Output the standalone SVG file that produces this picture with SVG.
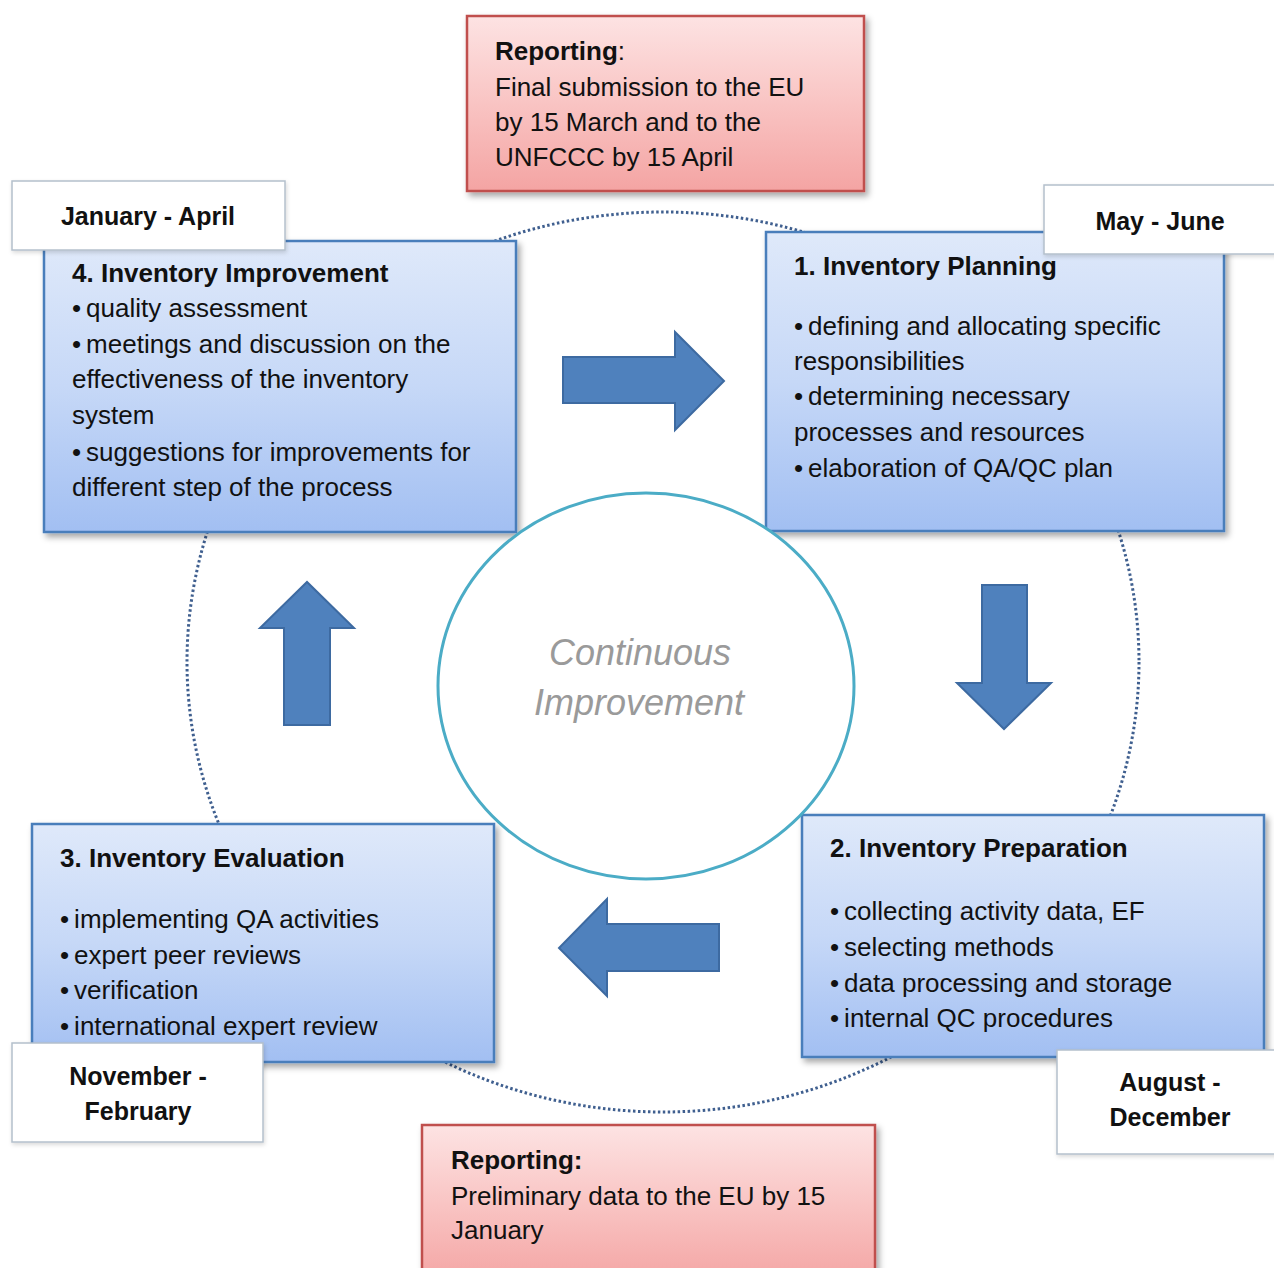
<svg xmlns="http://www.w3.org/2000/svg" width="1274" height="1268" viewBox="0 0 1274 1268">
<defs>
<linearGradient id="gBlue" x1="0" y1="0" x2="0" y2="1">
<stop offset="0" stop-color="#dfe9fa"/>
<stop offset="0.5" stop-color="#c6d8f7"/>
<stop offset="1" stop-color="#a2bff2"/>
</linearGradient>
<linearGradient id="gRed" x1="0" y1="0" x2="0" y2="1">
<stop offset="0" stop-color="#fde3e3"/>
<stop offset="0.5" stop-color="#f9c4c3"/>
<stop offset="1" stop-color="#f4a4a3"/>
</linearGradient>
<filter id="sh" x="-10%" y="-10%" width="125%" height="125%">
<feDropShadow dx="3" dy="4" stdDeviation="3" flood-color="#000" flood-opacity="0.35"/>
</filter>
<filter id="sh2" x="-10%" y="-10%" width="125%" height="125%">
<feDropShadow dx="1" dy="2" stdDeviation="2" flood-color="#000" flood-opacity="0.15"/>
</filter>
</defs>
<style>
text{font-family:"Liberation Sans",Arial,sans-serif;fill:#111;}
.t{font-size:26px;}
.b{font-size:26px;font-weight:bold;}
.m{font-size:25px;font-weight:bold;text-anchor:middle;}
.box{fill:url(#gBlue);stroke:#4a7ebb;stroke-width:2.5;filter:url(#sh);}
.red{fill:url(#gRed);stroke:#c0504d;stroke-width:2.5;filter:url(#sh);}
.lab{fill:#fff;stroke:#b4c0cc;stroke-width:1.5;filter:url(#sh2);}
.arr{fill:#4f81bd;stroke:#3d6aa1;stroke-width:2;}
.ci{font-size:36px;font-style:italic;fill:#9a9a9a;text-anchor:middle;}
</style>
<rect width="1274" height="1268" fill="#fff"/>

<g id="cycle">
<ellipse cx="663" cy="662" rx="476" ry="450" fill="none" stroke="#3f5f8f" stroke-width="3" stroke-dasharray="2.5 2.5"/>
</g>

<g id="report-top">
<rect class="red" x="467" y="16" width="397" height="175"/>
<text class="t" x="495" y="60"><tspan font-weight="bold">Reporting</tspan>:</text>
<text class="t" x="495" y="96">Final submission to the EU</text>
<text class="t" x="495" y="131">by 15 March and to the</text>
<text class="t" x="495" y="166">UNFCCC by 15 April</text>
</g>

<g id="step4">
<rect class="box" x="44" y="241" width="472" height="291"/>
<text class="b" x="72" y="282">4. Inventory Improvement</text>
<text class="t" x="72" y="317">•<tspan dx="5">quality assessment</tspan></text>
<text class="t" x="72" y="353">•<tspan dx="5">meetings and discussion on the</tspan></text>
<text class="t" x="72" y="388">effectiveness of the inventory</text>
<text class="t" x="72" y="424">system</text>
<text class="t" x="72" y="461">•<tspan dx="5">suggestions for improvements for</tspan></text>
<text class="t" x="72" y="496">different step of the process</text>
</g>
<g id="label-jan">
<rect class="lab" x="12" y="181" width="273" height="69"/>
<text class="m" x="148" y="225">January - April</text>
</g>

<g id="step1">
<rect class="box" x="766" y="232" width="458" height="299"/>
<text class="b" x="794" y="275">1. Inventory Planning</text>
<text class="t" x="794" y="335">•<tspan dx="5">defining and allocating specific</tspan></text>
<text class="t" x="794" y="370">responsibilities</text>
<text class="t" x="794" y="405">•<tspan dx="5">determining necessary</tspan></text>
<text class="t" x="794" y="441">processes and resources</text>
<text class="t" x="794" y="477">•<tspan dx="5">elaboration of QA/QC plan</tspan></text>
</g>
<g id="label-may">
<rect class="lab" x="1044" y="185" width="240" height="69"/>
<text class="m" x="1160" y="230">May - June</text>
</g>

<g id="step3">
<rect class="box" x="32" y="824" width="462" height="238"/>
<text class="b" x="60" y="867">3. Inventory Evaluation</text>
<text class="t" x="60" y="928">•<tspan dx="5">implementing QA activities</tspan></text>
<text class="t" x="60" y="964">•<tspan dx="5">expert peer reviews</tspan></text>
<text class="t" x="60" y="999">•<tspan dx="5">verification</tspan></text>
<text class="t" x="60" y="1035">•<tspan dx="5">international expert review</tspan></text>
</g>
<g id="label-nov">
<rect class="lab" x="12" y="1043" width="251" height="99"/>
<text class="m" x="138" y="1085">November -</text>
<text class="m" x="138" y="1120">February</text>
</g>

<g id="step2">
<rect class="box" x="802" y="815" width="462" height="242"/>
<text class="b" x="830" y="857">2. Inventory Preparation</text>
<text class="t" x="830" y="920">•<tspan dx="5">collecting activity data, EF</tspan></text>
<text class="t" x="830" y="956">•<tspan dx="5">selecting methods</tspan></text>
<text class="t" x="830" y="992">•<tspan dx="5">data processing and storage</tspan></text>
<text class="t" x="830" y="1027">•<tspan dx="5">internal QC procedures</tspan></text>
</g>
<g id="label-aug">
<rect class="lab" x="1057" y="1050" width="230" height="104"/>
<text class="m" x="1170" y="1091">August -</text>
<text class="m" x="1170" y="1126">December</text>
</g>

<g id="center">
<ellipse cx="646" cy="686" rx="208" ry="193" fill="#fff" stroke="#4bacc6" stroke-width="3"/>
<text class="ci" x="640" y="665">Continuous</text>
<text class="ci" x="639" y="715">Improvement</text>
</g>

<g id="connectors">
<polygon class="arr" points="563,357 675,357 675,332 724,381 675,430 675,403 563,403"/>
<polygon class="arr" points="982,585 1027,585 1027,683 1051,683 1004,729 957,683 982,683"/>
<polygon class="arr" points="719,924 607,924 607,899 559,948 607,996 607,971 719,971"/>
<polygon class="arr" points="284,725 284,628 260,628 307,582 354,628 330,628 330,725"/>
</g>

<g id="report-bottom">
<rect class="red" x="422" y="1125" width="453" height="160"/>
<text class="b" x="451" y="1169">Reporting:</text>
<text class="t" x="451" y="1205">Preliminary data to the EU by 15</text>
<text class="t" x="451" y="1239">January</text>
</g>
</svg>
